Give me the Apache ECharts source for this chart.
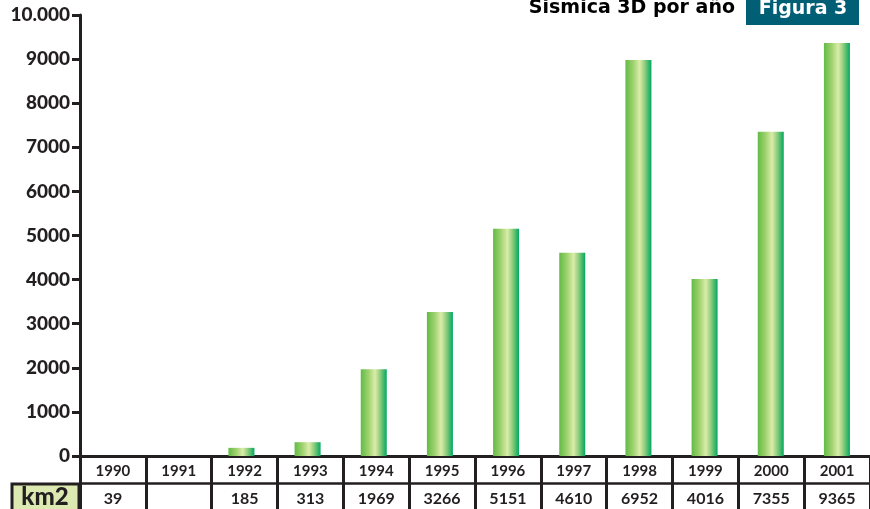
<!DOCTYPE html>
<html><head><meta charset="utf-8">
<script src="https://cdn.jsdelivr.net/npm/echarts@6/dist/echarts.min.js"></script>
<style>html,body{margin:0;padding:0;background:#fff}#c{width:870px;height:509px}</style>
</head><body><div id="c"></div>
<script>
const years = ['1990','1991','1992','1993','1994','1995','1996','1997','1998','1999','2000','2001'];
const barValues = [null, null, 185, 313, 1969, 3266, 5151, 4610, 8980, 4016, 7355, 9365];
const tableValues = ['39', '', '185', '313', '1969', '3266', '5151', '4610', '6952', '4016', '7355', '9365'];
const yTicks = [0, 1000, 2000, 3000, 4000, 5000, 6000, 7000, 8000, 9000, 10000];
const title = 'Sismica 3D por año';
const figLabel = 'Figura 3';
const unitLabel = 'km2';

const ink = '#231f20';
const fontH = 'Lato, "Open Sans", sans-serif';
const fontT = '"DejaVu Sans", "Liberation Sans", Arial, sans-serif';
const chart = echarts.init(document.getElementById('c'));
chart.setOption({
  animation: false,
  grid: [
    {left: 76, right: -4, top: 15, bottom: 53},
    {left: 80, right: -8, top: 15, bottom: 53}
  ],
  xAxis: [
    {gridIndex: 0, type: 'category', data: years, show: false},
    {gridIndex: 1, type: 'category', data: years, position: 'bottom',
      axisLine: {lineStyle: {color: ink, width: 3}},
      axisTick: {show: true, length: 53, lineStyle: {color: ink, width: 3}},
      axisLabel: {color: ink, fontWeight: 'bold', fontSize: 15, fontFamily: fontH, margin: 8}},
    {gridIndex: 1, type: 'category', data: tableValues, position: 'bottom', offset: 27,
      axisLine: {lineStyle: {color: ink, width: 2.5}},
      axisTick: {show: false},
      axisLabel: {color: ink, fontWeight: 'bold', fontSize: 16, fontFamily: fontH, margin: 8}}
  ],
  yAxis: [
    {gridIndex: 0, type: 'value', min: 0, max: 10000, interval: 1000, show: false},
    {gridIndex: 1, type: 'value', min: 0, max: 10000, interval: 1000,
      splitLine: {show: false},
      axisLine: {show: true, lineStyle: {color: ink, width: 3}},
      axisTick: {show: true, length: 8, lineStyle: {color: ink, width: 3}},
      axisLabel: {color: ink, fontWeight: 900, fontSize: 19, fontFamily: fontH, margin: 10,
        formatter: v => yTicks.includes(v) ? (v === 10000 ? '10.000' : String(v)) : ''}}
  ],
  series: [{
    type: 'bar', xAxisIndex: 0, yAxisIndex: 0, data: barValues, barWidth: 26,
    itemStyle: {color: new echarts.graphic.LinearGradient(0, 0, 1, 0, [
      {offset: 0, color: '#62bb45'},
      {offset: 0.3, color: '#9fd26f'},
      {offset: 0.55, color: '#dbecaa'},
      {offset: 0.75, color: '#8ccc7a'},
      {offset: 1, color: '#00a862'}
    ])}
  }],
  graphic: [
    {type: 'rect', shape: {x: 12, y: 484, width: 67, height: 30},
      style: {fill: '#dce9b0', stroke: ink, lineWidth: 3}},
    {type: 'text', x: 45, y: 497, style: {text: unitLabel, fill: ink, font: '900 24px ' + fontH,
      textAlign: 'center', textVerticalAlign: 'middle'}},
    {type: 'text', x: 735, y: 8, style: {text: title, fill: '#000', font: 'bold 19px ' + fontT,
      textAlign: 'right', textVerticalAlign: 'middle'}},
    {type: 'rect', shape: {x: 746, y: -2, width: 113, height: 27}, style: {fill: '#005f74'}},
    {type: 'text', x: 803, y: 9, style: {text: figLabel, fill: '#fff', font: 'bold 19px ' + fontT,
      textAlign: 'center', textVerticalAlign: 'middle'}}
  ]
});
</script></body></html>
